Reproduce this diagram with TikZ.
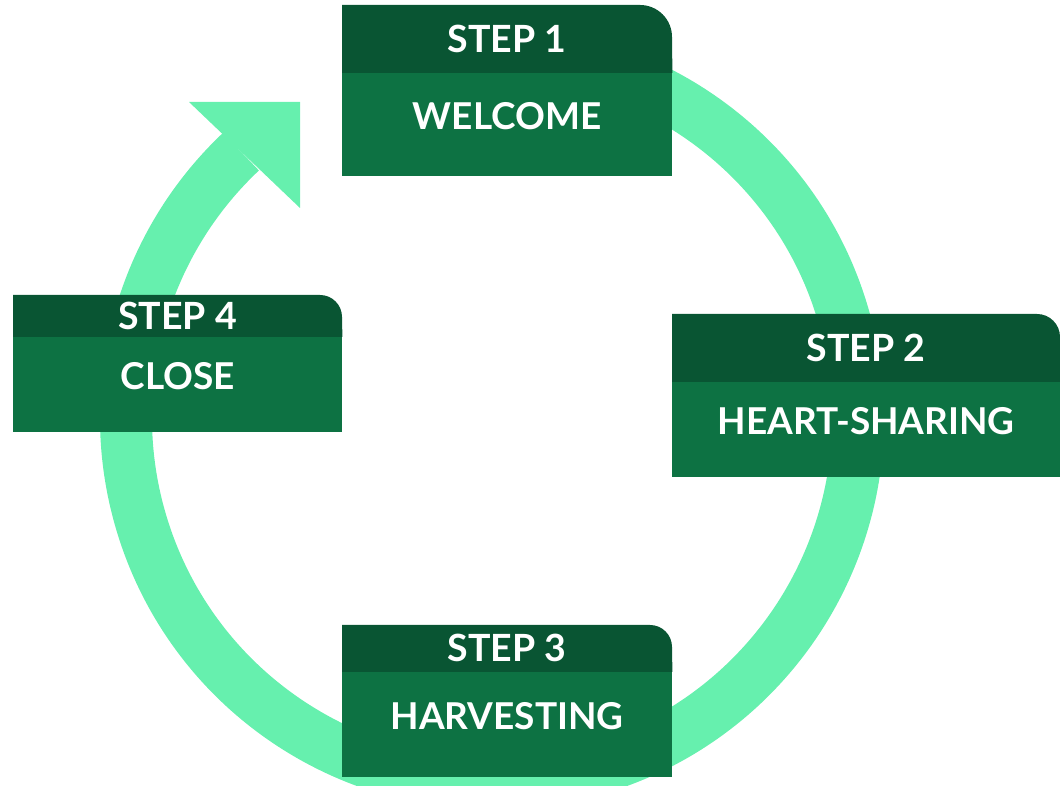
\documentclass[tikz,border=0pt]{standalone}
\usepackage{fontspec}
\setmainfont{Lato}
\usetikzlibrary{positioning}
\definecolor{ringgreen}{HTML}{66F0AE}
\definecolor{headgreen}{HTML}{095533}
\definecolor{bodygreen}{HTML}{0D7243}

\begin{document}
\begin{tikzpicture}[x=1pt,y=1pt,
    ring/.style={draw=ringgreen,line width=52pt},
    body/.style={fill=bodygreen,text=white,anchor=north west,inner sep=0pt,text depth=18pt,
      font=\bfseries\fontsize{37}{40}\selectfont},
    head/.style={text=white,inner sep=0pt,font=\bfseries\fontsize{37.5}{40}\selectfont}]
        \useasboundingbox (0,0) rectangle (1060,786);
        \coordinate (hub) at (492,368);

        \draw[ring] (hub) ++(105:366pt) arc[start angle=105,end angle=-226.7,radius=366pt];
        \fill[ringgreen] (189,684) -- (300,684) -- (300,578) -- cycle;

        \node[body,minimum width=330pt,minimum height=103pt] (welcome) at (342,713) {WELCOME};
        \node[body,minimum width=388pt,minimum height=95pt] (heart) at (672,404) {HEART-SHARING};
        \node[body,minimum width=330pt,minimum height=105pt] (harvest) at (342,114) {HARVESTING};
        \node[body,minimum width=329pt,minimum height=95pt] (close) at (13,449) {CLOSE};

        \fill[headgreen] (welcome.north west) -- ++(0,68) -- ++(298,0) arc[start angle=90,end angle=0,radius=32pt] -- (welcome.north east) -- cycle;
        \fill[headgreen] (heart.north west) -- ++(0,68) -- ++(365,0) arc[start angle=90,end angle=0,radius=23pt] -- (heart.north east) -- cycle;
        \fill[headgreen] (harvest.north west) -- ++(0,47) -- ++(308,0) arc[start angle=90,end angle=0,radius=22pt] -- (harvest.north east) -- cycle;
        \fill[headgreen] (close.north west) -- ++(0,42) -- ++(307,0) arc[start angle=90,end angle=0,radius=22pt] -- (close.north east) -- cycle;

        \node[head,minimum width=330pt,minimum height=68pt,above=0pt of welcome] (step1) {STEP 1};
        \node[head,minimum width=388pt,minimum height=68pt,above=0pt of heart] (step2) {STEP 2};
        \node[head,minimum width=330pt,minimum height=47pt,above=0pt of harvest] (step3) {STEP 3};
        \node[head,minimum width=329pt,minimum height=42pt,above=0pt of close] (step4) {STEP 4};
      \end{tikzpicture}
\end{document}
